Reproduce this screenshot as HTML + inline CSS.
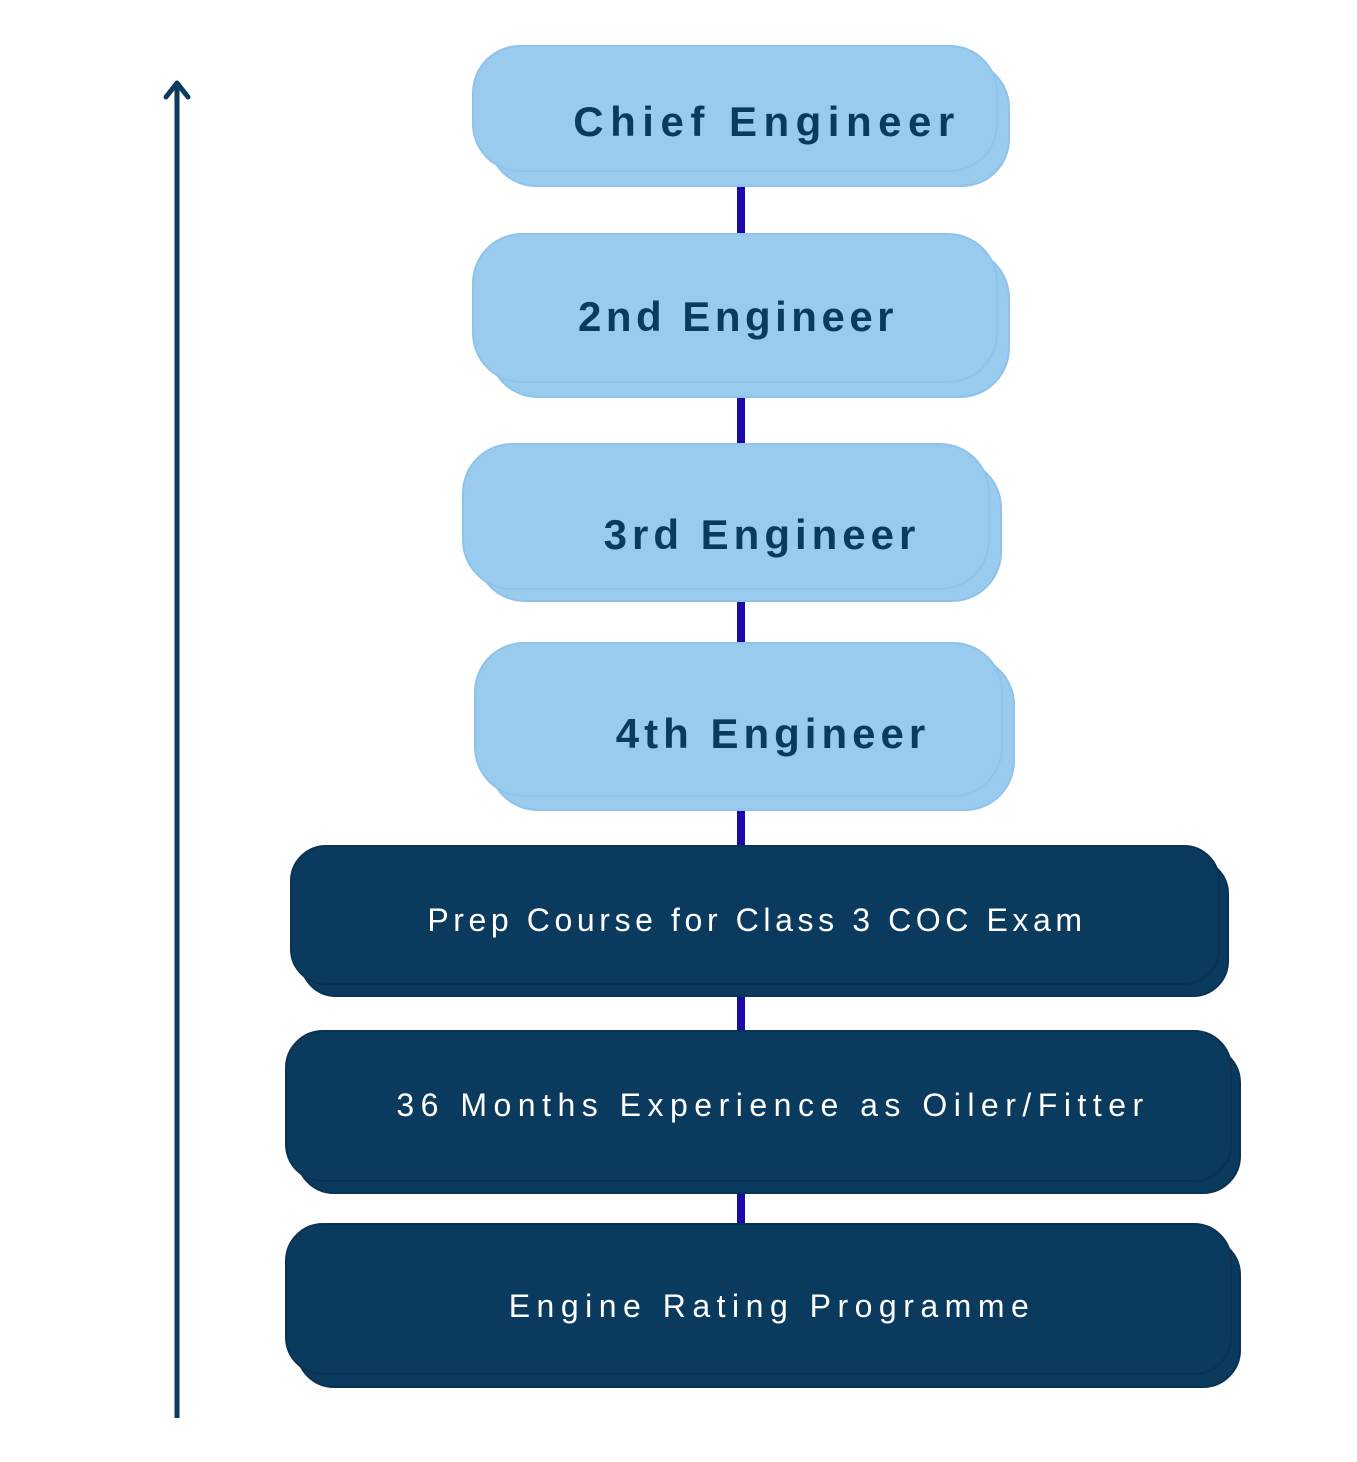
<!DOCTYPE html>
<html><head><meta charset="utf-8"><style>
body{margin:0;width:1357px;height:1462px;background:#fff;position:relative;overflow:hidden;font-family:"Liberation Sans",sans-serif}
.b{position:absolute;box-sizing:border-box}
.l{background:#99cbee;border:2px solid #8fc3ea}
.d{background:#0b3a5f;border:2px solid #0a3253}
.t{position:absolute;white-space:nowrap;transform:translate(-50%,-50%);line-height:1}
.lt{color:#0b3a5f;font-weight:bold;font-size:42px;letter-spacing:5px}
.dt{color:#fff;font-size:32px;letter-spacing:5.5px}
</style></head><body>
<svg class="b" style="left:0;top:0" width="1357" height="1462">
<line x1="177" y1="1418" x2="177" y2="84" stroke="#0b3a5f" stroke-width="5"/>
<polyline points="166,97 177,83 188,97" fill="none" stroke="#0b3a5f" stroke-width="5" stroke-linecap="round" stroke-linejoin="round"/>
</svg>
<div class="b" style="left:737px;top:170px;width:8px;height:1060px;background:#1a0aa8"></div>

<div class="b l" style="left:488px;top:60px;width:522px;height:127px;border-radius:48px"></div>
<div class="b l" style="left:472px;top:45px;width:526px;height:127px;border-radius:48px"></div>
<div class="t lt" style="left:767px;top:122px;letter-spacing:6.5px">Chief Engineer</div>

<div class="b l" style="left:488px;top:248px;width:522px;height:150px;border-radius:50px"></div>
<div class="b l" style="left:472px;top:233px;width:526px;height:150px;border-radius:50px"></div>
<div class="t lt" style="left:738px;top:317px;letter-spacing:4.5px">2nd Engineer</div>

<div class="b l" style="left:475px;top:458px;width:527px;height:144px;border-radius:50px"></div>
<div class="b l" style="left:462px;top:443px;width:528px;height:147px;border-radius:50px"></div>
<div class="t lt" style="left:762px;top:535px">3rd Engineer</div>

<div class="b l" style="left:488px;top:655px;width:527px;height:156px;border-radius:50px"></div>
<div class="b l" style="left:474px;top:642px;width:529px;height:155px;border-radius:50px"></div>
<div class="t lt" style="left:773px;top:734px">4th Engineer</div>

<div class="b d" style="left:300px;top:858px;width:929px;height:139px;border-radius:36px"></div>
<div class="b d" style="left:290px;top:845px;width:930px;height:140px;border-radius:36px"></div>
<div class="t dt" style="left:757px;top:920px;letter-spacing:4.6px">Prep Course for Class 3 COC Exam</div>

<div class="b d" style="left:296px;top:1045px;width:945px;height:149px;border-radius:38px"></div>
<div class="b d" style="left:285px;top:1030px;width:947px;height:152px;border-radius:38px"></div>
<div class="t dt" style="left:773px;top:1105px;letter-spacing:6.5px">36 Months Experience as Oiler/Fitter</div>

<div class="b d" style="left:296px;top:1237px;width:945px;height:151px;border-radius:38px"></div>
<div class="b d" style="left:285px;top:1223px;width:947px;height:152px;border-radius:38px"></div>
<div class="t dt" style="left:772px;top:1306px;letter-spacing:6.5px">Engine Rating Programme</div>
</body></html>
